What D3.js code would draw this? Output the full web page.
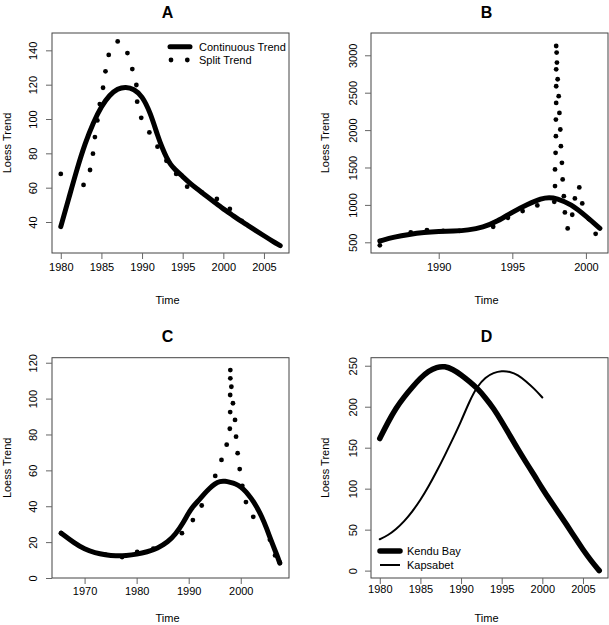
<!DOCTYPE html>
<html>
<head>
<meta charset="utf-8">
<script src="https://cdn.jsdelivr.net/npm/d3@7"></script>
<style>
  body { margin: 0; background: #fff; }
  svg text { font-family: "Liberation Sans", Arial, Helvetica, sans-serif; fill: #000; }
</style>
</head>
<body>
<div id="chart"></div>
<script>
// Panel A: continuous loess trend and split trend
const aLineYears = [1980, 1981, 1982, 1983, 1984, 1985, 1986, 1987, 1988, 1989, 1990, 1991, 1992, 1992.5, 1993, 1993.5, 1994, 1995, 1996, 1997, 1998, 1999, 2000, 2001, 2002, 2003, 2004, 2005, 2006, 2007];
const aLineValues = [37.3, 54, 71, 86, 98, 107.5, 114, 117.8, 118.8, 117.5, 113.5, 104, 89, 83, 77.5, 73.5, 70.8, 66.5, 62, 58.5, 54.8, 51.2, 47.6, 44.4, 41, 38.1, 35, 32, 29, 26.2];
const aDotYears = [1980, 1982.8, 1983.6, 1983.96, 1984.2, 1984.5, 1984.8, 1985.2, 1985.5, 1985.9, 1987.0, 1988.2, 1988.8, 1989.3, 1989.4, 1989.9, 1990.9, 1991.9, 1993.0, 1994.2, 1995.55, 1997.34, 1999.2, 2000.8, 2002.25];
const aDotValues = [68, 61.6, 70.3, 79.8, 89.5, 99.2, 108.7, 118.2, 127.8, 137.3, 145.2, 138.4, 129.1, 119.8, 110.1, 100.7, 92.2, 83.9, 75.7, 68.0, 60.6, 57.3, 53.4, 47.6, 40.6];

// Panel B
const bLineYears = [1986, 1987, 1988, 1989, 1990, 1991, 1992, 1993, 1994, 1995, 1996, 1997, 1997.5, 1998, 1999, 2000, 2000.95];
const bLineValues = [517, 572, 607, 632, 645, 650, 662, 698, 780, 905, 1005, 1090, 1100, 1090, 1010, 850, 686];
const bDotYears = [1986, 1988.1, 1989.2, 1990.3, 1991.4, 1993.7, 1994.7, 1995.7, 1996.7,
  1997.85, 1997.9, 1997.9, 1997.94, 1997.96, 1997.96, 1997.98, 1997.98, 1997.98, 1998.01, 1997.98,
  1998.03, 1998.08, 1998.15, 1998.2, 1998.26, 1998.3, 1998.37, 1998.42, 1998.5, 1998.57, 1998.76,
  1999.07, 1999.25, 1999.55, 1999.75, 2000.2, 2000.66];
const bDotValues = [459, 633, 664, 654, 654, 708, 828, 917, 993,
  1041, 1251, 1474, 1696, 1919, 2141, 2363, 2586, 2813, 3036, 3124,
  2903, 2680, 2453, 2230, 2008, 1785, 1562, 1340, 1117, 900, 686,
  868, 1087, 1234, 1020, 810, 614];

// Panel C
const cLineYears = [1965.5, 1968, 1970, 1972, 1974, 1976, 1978, 1980, 1982, 1984, 1986, 1987.5, 1989, 1990, 1991, 1992, 1993, 1994, 1995, 1996, 1997, 1998, 1999, 2000, 2001, 2002, 2003, 2004, 2005, 2006, 2007, 2007.5];
const cLineValues = [25, 19.5, 16, 14, 12.9, 12.3, 12.5, 13.2, 14.5, 16.5, 20, 24.5, 31, 36.5, 40.5, 43.5, 47, 50, 52.5, 54, 54, 53.3, 52.5, 51, 48.2, 44.5, 40, 34.5, 27.5, 19.5, 12.5, 8.3];
const cDotYears = [1965.5, 1974.0, 1977.2, 1980.1, 1983.2, 1988.7, 1990.8, 1992.5, 1995.1, 1996.3, 1997.3, 1997.9, 1997.97, 1997.97, 1998.0, 1998.0,
  1998.2, 1998.5, 1998.9, 1999.1, 1999.4, 1999.8, 2000.3, 2001.0, 2002.4, 2005.6, 2006.6, 2007.5];
const cDotValues = [25, 13.0, 11.7, 14.5, 16.3, 25.0, 32.3, 40.4, 56.9, 65.8, 74.3, 83.2, 92.5, 102, 111.3, 115.9,
  106.6, 97.4, 88.1, 78.8, 69.6, 60.7, 51.4, 42.3, 34.1, 21.3, 12.6, 8.7];

// Panel D
const kenduYears = [1980, 1981, 1982, 1983, 1984, 1985, 1986, 1987, 1988, 1989, 1990, 1991, 1992, 1993, 1994, 1995, 1996, 1997, 1998, 1999, 2000, 2001, 2002, 2003, 2004, 2005, 2006, 2007];
const kenduValues = [161.2, 181, 198.5, 212, 224, 235, 243.5, 248.5, 249.5, 245.5, 239, 231, 222.5, 211, 198, 182, 165, 148, 132, 116.5, 100, 85, 70.5, 56, 40.5, 25.5, 12, 0];
const kapsYears = [1980, 1981, 1982, 1983, 1984, 1985, 1986, 1987, 1988, 1989, 1990, 1991, 1992, 1993, 1994, 1995, 1996, 1997, 1998, 1999, 2000];
const kapsValues = [38.3, 43, 50.5, 60, 72, 86, 102.5, 121, 140.5, 161, 182, 206, 225, 236, 241.5, 243.8, 243, 239, 231, 222, 211.3];

const panelTitles = ["A", "B", "C", "D"];
const aXTicks = [1980, 1985, 1990, 1995, 2000, 2005], aYTicks = [40, 60, 80, 100, 120, 140];
const bXTicks = [1990, 1995, 2000], bYTicks = [500, 1000, 1500, 2000, 2500, 3000];
const cXTicks = [1970, 1980, 1990, 2000], cYTicks = [0, 20, 40, 60, 80, 100, 120];
const dXTicks = [1980, 1985, 1990, 1995, 2000, 2005], dYTicks = [0, 50, 100, 150, 200, 250];

const zip = (xs, ys) => xs.map((x, i) => ({x: x, y: ys[i]}));

let svg = d3.select("#chart").append("svg")
    .attr("width", 609)
    .attr("height", 625);

function drawPanel(p) {
    let x = d3.scaleLinear().domain(p.xDomain).range([p.left, p.right]);
    let y = d3.scaleLinear().domain(p.yDomain).range([p.bottom, p.top]);
    let g = svg.append("g");

    // lines
    let line = d3.line().x(d => x(d.x)).y(d => y(d.y)).curve(d3.curveBasis);
    p.lines.forEach(l => {
        g.append("path")
            .attr("d", line(l.data))
            .attr("fill", "none")
            .attr("stroke", "#000")
            .attr("stroke-width", l.width)
            .attr("stroke-linecap", "round")
            .attr("stroke-linejoin", "round");
    });

    // points
    if (p.dots) {
        g.selectAll(".dot")
            .data(p.dots)
            .enter()
            .append("circle")
            .attr("cx", d => x(d.x))
            .attr("cy", d => y(d.y))
            .attr("r", 2.4)
            .attr("fill", "#000");
    }

    // box
    g.append("rect")
        .attr("x", p.left).attr("y", p.top)
        .attr("width", p.right - p.left).attr("height", p.bottom - p.top)
        .attr("fill", "none").attr("stroke", "#444").attr("stroke-width", 1);

    // x axis
    let xa = g.append("g").attr("transform", `translate(0,${p.bottom})`)
        .call(d3.axisBottom(x).tickValues(p.xTicks).tickSize(6).tickPadding(p.xPad).tickFormat(d3.format("d")));
    // y axis
    let ya = g.append("g").attr("transform", `translate(${p.left},0)`)
        .call(d3.axisLeft(y).tickValues(p.yTicks).tickSize(6).tickFormat(d3.format("d")));
    [xa, ya].forEach(a => {
        a.select(".domain").remove();
        a.selectAll(".tick line").attr("stroke", "#666");
        a.selectAll("text").style("font-size", "11px");
    });
    ya.selectAll(".tick text")
        .attr("x", 0).attr("dy", null)
        .attr("text-anchor", "middle")
        .attr("dominant-baseline", "central")
        .attr("transform", `translate(${-p.yPad},0) rotate(-90)`);

    // titles
    g.append("text")
        .attr("x", (p.left + p.right) / 2 - 3).attr("y", p.top - 21)
        .attr("text-anchor", "middle").attr("dominant-baseline", "central")
        .style("font-size", "16px").style("font-weight", "bold")
        .text(p.title);
    g.append("text")
        .attr("x", (p.left + p.right) / 2 - 3).attr("y", p.bottom + p.timeOff)
        .attr("text-anchor", "middle").attr("dominant-baseline", "central")
        .style("font-size", "11px")
        .text("Time");
    g.append("text")
        .attr("transform", `translate(${p.left - p.labOff},${(p.top + p.bottom) / 2}) rotate(-90)`)
        .attr("text-anchor", "middle").attr("dominant-baseline", "central")
        .style("font-size", "11px")
        .text("Loess Trend");
    return {g: g, x: x, y: y};
}

// Panel A
let pa = drawPanel({
    title: panelTitles[0], left: 52, right: 289, top: 33, bottom: 253,
    xDomain: [1978.92, 2008.08], yDomain: [21.95, 150.1],
    xTicks: aXTicks, yTicks: aYTicks, xPad: 4, yPad: 19.5, timeOff: 47, labOff: 45,
    lines: [{data: zip(aLineYears, aLineValues), width: 5}],
    dots: zip(aDotYears, aDotValues)
});
pa.g.append("line").attr("x1", 170).attr("x2", 190).attr("y1", 46.7).attr("y2", 46.7)
    .attr("stroke", "#000").attr("stroke-width", 5).attr("stroke-linecap", "round");
pa.g.selectAll(".legdot").data([171, 187.3]).enter().append("circle")
    .attr("cx", d => d).attr("cy", 60).attr("r", 2.4).attr("fill", "#000");
pa.g.append("text").attr("x", 199).attr("y", 46.7).attr("dominant-baseline", "central")
    .style("font-size", "11px").text("Continuous Trend");
pa.g.append("text").attr("x", 199).attr("y", 60).attr("dominant-baseline", "central")
    .style("font-size", "11px").text("Split Trend");

// Panel B
drawPanel({
    title: panelTitles[1], left: 371, right: 608, top: 33, bottom: 253,
    xDomain: [1985.4, 2001.5], yDomain: [357, 3298],
    xTicks: bXTicks, yTicks: bYTicks, xPad: 4, yPad: 17.7, timeOff: 47, labOff: 46,
    lines: [{data: zip(bLineYears, bLineValues), width: 5}],
    dots: zip(bDotYears, bDotValues)
});

// Panel C
drawPanel({
    title: panelTitles[2], left: 52, right: 289, top: 357.7, bottom: 578,
    xDomain: [1963.74, 2009.27], yDomain: [0, 122.8],
    xTicks: cXTicks, yTicks: cYTicks, xPad: 3, yPad: 19.5, timeOff: 39.5, labOff: 45,
    lines: [{data: zip(cLineYears, cLineValues), width: 5}],
    dots: zip(cDotYears, cDotValues)
});

// Panel D
let pd = drawPanel({
    title: panelTitles[3], left: 371, right: 608, top: 357.7, bottom: 578,
    xDomain: [1978.92, 2008.08], yDomain: [-9, 259.8],
    xTicks: dXTicks, yTicks: dYTicks, xPad: 1, yPad: 17.7, timeOff: 39.5, labOff: 46,
    lines: [{data: zip(kenduYears, kenduValues), width: 5.5}, {data: zip(kapsYears, kapsValues), width: 2}]
});
pd.g.append("line").attr("x1", 380).attr("x2", 400).attr("y1", 551).attr("y2", 551)
    .attr("stroke", "#000").attr("stroke-width", 5.5).attr("stroke-linecap", "round");
pd.g.append("line").attr("x1", 380).attr("x2", 400).attr("y1", 565).attr("y2", 565)
    .attr("stroke", "#000").attr("stroke-width", 2);
pd.g.append("text").attr("x", 407).attr("y", 551).attr("dominant-baseline", "central")
    .style("font-size", "11px").text("Kendu Bay");
pd.g.append("text").attr("x", 407).attr("y", 565).attr("dominant-baseline", "central")
    .style("font-size", "11px").text("Kapsabet");
</script>
</body>
</html>
